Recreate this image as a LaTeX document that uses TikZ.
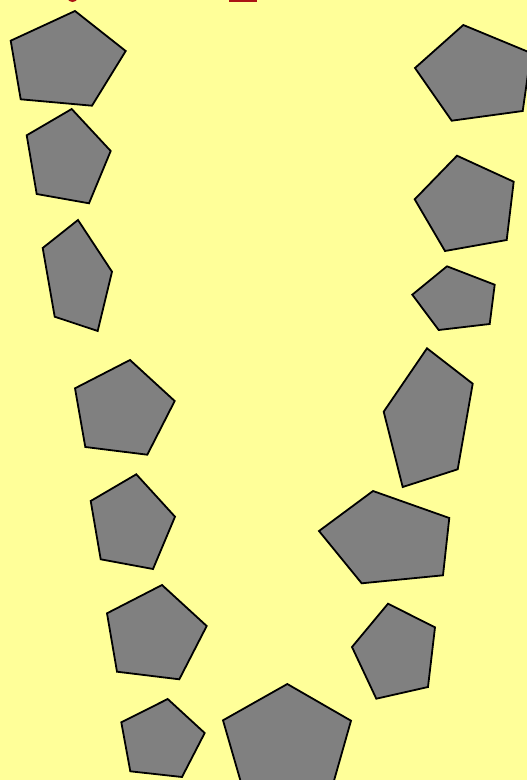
\documentclass[tikz,border=0pt]{standalone}
\definecolor{bgYellow}{RGB}{255,255,153}
\definecolor{stoneGray}{RGB}{128,128,128}
\definecolor{markRed}{RGB}{170,20,20}
\usepackage{tikz}
\usetikzlibrary{calc}

\begin{document}
\begin{tikzpicture}[
    x=1pt, y=-1pt,
    stone/.style={draw=black, fill=stoneGray, line width=1.8pt, line join=miter},
    edgemark/.style={fill=markRed, draw=none}
  ]
  \useasboundingbox (0,0) rectangle (527,780);
  \fill[bgYellow] (0,0) rectangle (527,780);
  \clip (0,0) rectangle (527,780);

  % cut-off marks at the top edge
  \fill[edgemark] (72.5,-2) ellipse (5 and 4);
  \fill[edgemark] (229,-1) rectangle (257,2.3);

  % left row
  \draw[stone] (75,11) -- (125.7,51) -- (92,105.7) -- (20.7,99.3) -- (10.7,40.7) -- cycle;
  \draw[stone] (71.7,109) -- (110.7,151) -- (89,203.3) -- (36.7,194) -- (26.7,135.3) -- cycle;
  \draw[stone] (78,220) -- (112,271.7) -- (97.7,331) -- (54.7,316.7) -- (42.7,248) -- cycle;
  \draw[stone] (130,360) -- (174.7,401) -- (147.3,454.7) -- (85.3,447) -- (75,388.3) -- cycle;
  \draw[stone] (136.3,474.3) -- (175,516.7) -- (153,569) -- (100.7,559.3) -- (90.7,501) -- cycle;
  \draw[stone] (162,585) -- (206.7,626) -- (179.3,679.3) -- (117,671.7) -- (107,613.3) -- cycle;
  \draw[stone] (167.7,699) -- (204.7,733) -- (182,777) -- (130.3,771.3) -- (121.3,722.3) -- cycle;

  % bottom
  \draw[stone] (287.3,684) -- (351,720.7) -- (326.9,805.7) -- (247.7,805.7) -- (223,720.3) -- cycle;

  % right row
  \draw[stone] (463.3,25) -- (531,53) -- (522.7,111) -- (451.7,120.7) -- (415,68) -- cycle;
  \draw[stone] (457,155.7) -- (513.7,181.7) -- (506.7,240) -- (445,251) -- (414.7,199.3) -- cycle;
  \draw[stone] (447,266.3) -- (494.7,284.7) -- (489.7,324) -- (438.7,330) -- (412.3,294.7) -- cycle;
  \draw[stone] (427,348.3) -- (472.7,383.7) -- (457.7,469.3) -- (402.7,487) -- (383.7,411.7) -- cycle;
  \draw[stone] (373,491) -- (449.3,518) -- (443,575.3) -- (361.7,583.3) -- (319,531) -- cycle;
  \draw[stone] (388,603.7) -- (435,627.3) -- (428,687) -- (376.3,698.7) -- (352,647) -- cycle;
\end{tikzpicture}
\end{document}
